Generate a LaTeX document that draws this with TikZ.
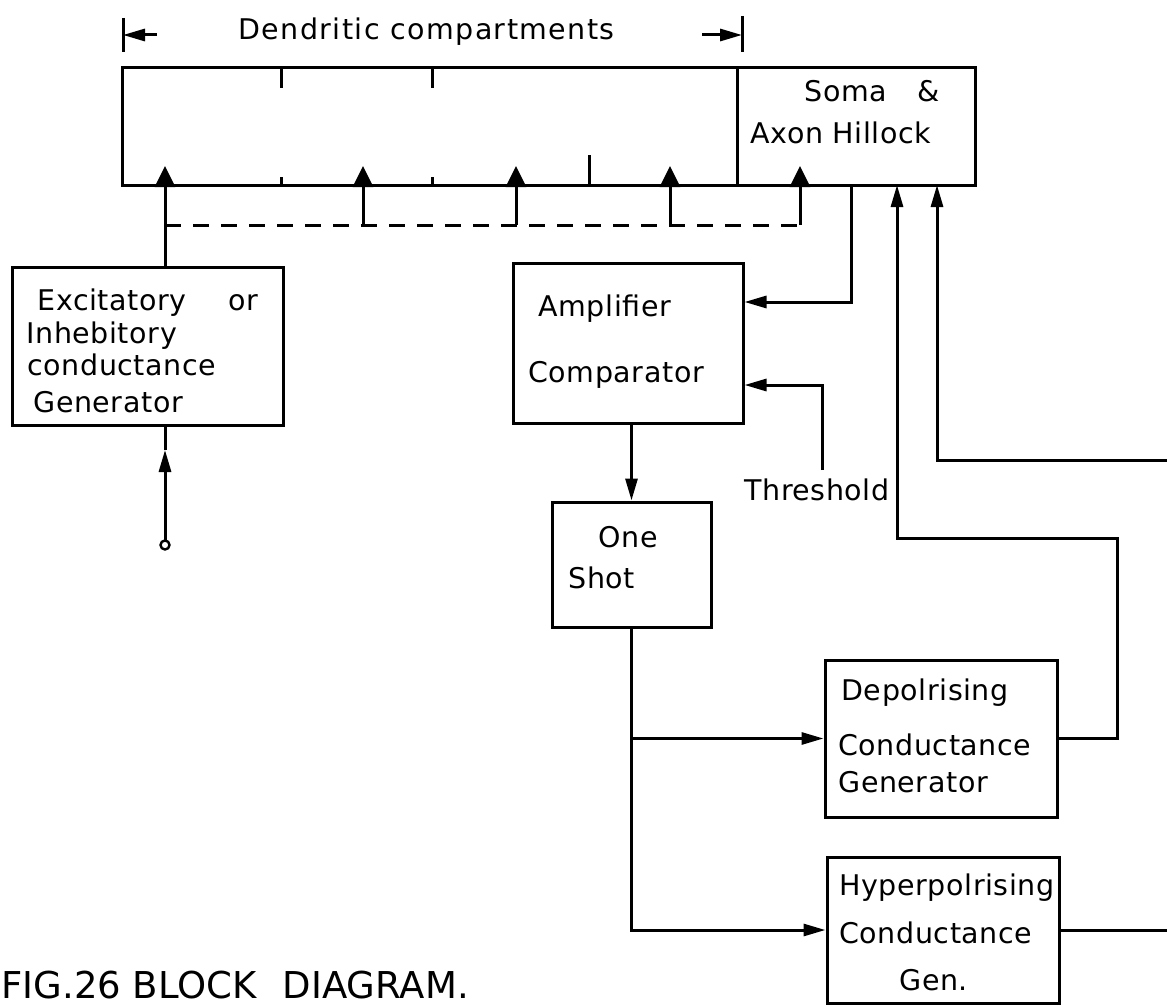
\documentclass[tikz,border=0pt]{standalone}
\usepackage{fontspec}
\setmainfont{DejaVu Sans}
\newfontfamily\lettering[LetterSpace=2]{DejaVu Sans}
\newfontfamily\widelettering[LetterSpace=5]{DejaVu Sans}
\newfontfamily\captionfont{DejaVu Sans}
\usetikzlibrary{arrows.meta,calc}
\begin{document}
\begin{tikzpicture}[x=1pt,y=-1pt,
  line width=3pt,
  blk/.style={draw, rectangle, inner sep=0pt, line width=3pt},
  lbl/.style={anchor=base west, inner sep=0pt, font=\lettering\fontsize{28.5}{32}\selectfont},
  sig/.style={-{Triangle[length=22pt,width=12pt]}},
  syn/.style={-{Triangle[length=21pt,width=20pt]}},
  bus/.style={dash pattern=on 16pt off 12pt},
]
\fill[white] (0,0) rectangle (1167,1006);
\useasboundingbox (0,0) rectangle (1167,1006);

% ---- blocks ----
\node[blk, minimum width=615pt, minimum height=117pt] (dend) at (429.5,126.5) {};
\node[blk, minimum width=238pt, minimum height=117pt] (soma) at (856,126.5) {};
\node[blk, minimum width=271pt, minimum height=158pt] (exc) at (147.5,346) {};
\node[blk, minimum width=230pt, minimum height=160pt] (amp) at (628,343) {};
\node[blk, minimum width=159pt, minimum height=125pt] (one) at (631.5,564.5) {};
\node[blk, minimum width=232pt, minimum height=157pt] (depol) at (941,738.5) {};
\node[blk, minimum width=232pt, minimum height=146pt] (hyper) at (943,930) {};

% ---- texts ----
\node[lbl, font=\widelettering\fontsize{28.5}{32}\selectfont] (tdend) at (237,40) {Dendritic compartments};
\node[lbl] (tsoma) at (803,102) {Soma\hspace{31pt}\&};
\node[lbl] (taxon) at (749,143) {Axon Hillock};
\node[lbl] (texc1) at (36,310) {Excitatory\hspace{42pt}or};
\node[lbl] (texc2) at (25,343) {Inhebitory};
\node[lbl] (texc3) at (26,375) {conductance};
\node[lbl] (texc4) at (32,412) {Generator};
\node[lbl] (tamp1) at (537,316) {Amplifier};
\node[lbl] (tamp2) at (527,382) {Comparator};
\node[lbl] (tone1) at (597,547) {One};
\node[lbl] (tone2) at (567,588) {Shot};
\node[lbl] (thr) at (743,500) {Threshold};
\node[lbl] (tdep1) at (840,700) {Depolrising};
\node[lbl] (tdep2) at (837,755) {Conductance};
\node[lbl] (tdep3) at (837,792) {Generator};
\node[lbl] (thyp1) at (838,895) {Hyperpolrising};
\node[lbl] (thyp2) at (838,943) {Conductance};
\node[lbl] (thyp3) at (898,990) {Gen.};
\node[anchor=base west, inner sep=0pt, font=\captionfont\fontsize{37}{40}\selectfont]
  (fig) at (0,998) {FIG.26 BLOCK\hspace{26pt}DIAGRAM.};

% ---- dimension marks over the dendritic compartments ----
\coordinate (dimL) at (123,35);
\coordinate (dimR) at (742,35);
\draw (123,18) -- (123,52);
\draw (742,16) -- (742,52);
\draw[sig] ($(dimL)+(34,0)$) -- (dimL);
\draw[sig] ($(dimR)+(-40,0)$) -- (dimR);

% ---- compartment dividers ----
\foreach \x in {281,432} {
  \draw (\x,68) -- (\x,88);
  \draw (\x,177) -- (\x,185);
}
\draw (589,155) -- (589,185);

% ---- synaptic inputs along the dendrite ----
\foreach \i/\x in {1/165,2/363,3/516,4/670,5/800} {
  \coordinate (ct\i) at (\x,166);
  \coordinate (cb\i) at (\x,225);
  \draw[syn] (cb\i) -- (ct\i);
}
\draw[bus] (cb1) -- (cb5);
\draw (exc.north -| cb1) -- (cb1);

% ---- stimulus terminal of the conductance generator ----
\coordinate (term) at (165,545);
\coordinate (emid) at (165,450);
\draw[sig] (term) -- (emid);
\draw (emid) -- (exc.south -| term);
\draw[fill=white, line width=2.4pt] (term) circle (4.5pt);

% ---- soma potential to the amplifier ----
\coordinate (sv) at (851,185);
\coordinate (svk) at (851,302);
\draw[sig] (sv) -- (svk) -- (svk -| amp.east);

% ---- threshold input ----
\coordinate (thb) at (822,470);
\coordinate (thk) at (822,385);
\draw[sig] (thb) -- (thk) -- (thk -| amp.east);

% ---- comparator to one shot ----
\draw[sig] (amp.south -| one.north) -- (one.north);

% ---- one shot drives both conductance generators ----
\draw[sig] (one.south) -- (one.south |- hyper.west) -- (hyper.west);
\draw[sig] (one.south |- depol.west) -- (depol.west);

% ---- depolarising feedback to the soma ----
\coordinate (dfb) at (1117,538);
\coordinate (sa) at (897,185);
\draw[sig] (depol.east) -- (depol.east -| dfb) -- (dfb) -- (dfb -| sa) -- (sa);

% ---- hyperpolarising feedback to the soma ----
\coordinate (hx) at (1167,930);
\draw (hyper.east) -- (hx);
\coordinate (hfb) at (1167,460);
\coordinate (sh) at (937,185);
\draw[sig] (hfb) -- (hfb -| sh) -- (sh);
\end{tikzpicture}
\end{document}
